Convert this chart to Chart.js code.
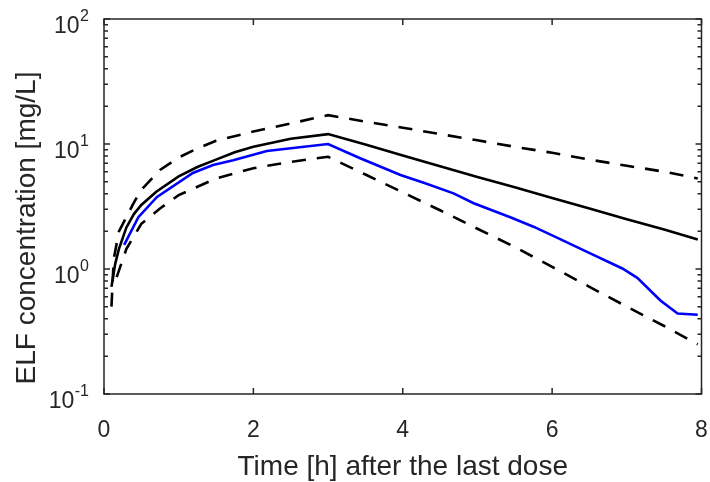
<!DOCTYPE html>
<html>
<head>
<meta charset="utf-8">
<script src="https://cdn.jsdelivr.net/npm/chart.js@4.4.0/dist/chart.umd.min.js"></script>
<style>
  html, body { margin: 0; padding: 0; background: #fff; }
  #wrap { width: 710px; height: 482px; position: relative; }
</style>
</head>
<body>
<div id="wrap"><canvas id="elfChart"></canvas></div>
<script>
/* median prediction (black solid) */
var medianTimes = [0.1, 0.15, 0.2, 0.3, 0.4, 0.5, 0.7, 1.0, 1.25, 1.5, 1.75, 2.0, 2.5, 3.0, 3.5, 4.0, 4.5, 5.0, 5.5, 6.0, 6.5, 7.0, 7.5, 7.95];
var medianConc  = [0.72, 1.1, 1.45, 2.15, 2.75, 3.25, 4.15, 5.5, 6.55, 7.5, 8.6, 9.5, 11.0, 12.0, 9.9, 8.1, 6.65, 5.45, 4.5, 3.7, 3.05, 2.5, 2.07, 1.72];
/* upper bound (black dashed) */
var upperTimes = [0.1, 0.13, 0.2, 0.3, 0.4, 0.5, 0.75, 1.0, 1.25, 1.5, 2.0, 2.5, 3.0, 3.5, 4.0, 4.5, 5.0, 5.5, 6.0, 6.5, 7.0, 7.5, 7.95];
var upperConc  = [0.5, 1.2, 2.0, 2.6, 3.4, 4.3, 6.2, 7.8, 9.2, 10.6, 12.6, 14.6, 17.0, 15.1, 13.5, 12.0, 10.7, 9.5, 8.5, 7.5, 6.7, 6.0, 5.3];
/* lower bound (black dashed) */
var lowerTimes = [0.17, 0.3, 0.5, 0.75, 1.0, 1.5, 2.0, 2.5, 3.0, 3.5, 4.0, 4.5, 5.0, 5.5, 6.0, 6.5, 7.0, 7.5, 7.95];
var lowerConc  = [0.86, 1.45, 2.3, 3.05, 3.9, 5.3, 6.4, 7.2, 7.9, 5.7, 4.1, 2.95, 2.1, 1.5, 1.04, 0.72, 0.5, 0.35, 0.25];
/* blue curve */
var blueTimes = [0.27, 0.46, 0.71, 1.19, 1.46, 1.73, 2.18, 3.0, 3.43, 3.97, 4.3, 4.68, 4.95, 5.44, 5.75, 6.1, 6.51, 6.94, 7.14, 7.45, 7.68, 7.95];
var blueConc  = [1.56, 2.6, 3.77, 5.87, 6.8, 7.4, 8.8, 10.0, 7.7, 5.65, 4.85, 4.03, 3.36, 2.59, 2.18, 1.74, 1.335, 1.01, 0.85, 0.56, 0.44, 0.43];

var xTicks = [0, 2, 4, 6, 8];
var yDecades = [0.1, 1, 10, 100];
var yExponents = ['-1', '0', '1', '2'];

var axisColor = '#262626';
var fontFamily = '"Liberation Sans", Arial, Helvetica, sans-serif';

function toPoints(ts, vs) {
  return ts.map(function(t, i) { return { x: t, y: vs[i] }; });
}

/* MATLAB-like box with inward ticks, tick labels and axis titles */
var framePlugin = {
  id: 'matlabFrame',
  afterDatasetsDraw: function(chart) {
    var c = chart.ctx;
    var a = chart.chartArea;
    var xs = chart.scales.x;
    var ys = chart.scales.y;
    c.save();
    c.strokeStyle = axisColor;
    c.lineWidth = 1.5;
    c.strokeRect(a.left, a.top, a.right - a.left, a.bottom - a.top);
    c.beginPath();
    xTicks.forEach(function(v) {
      var px = xs.getPixelForValue(v);
      c.moveTo(px, a.bottom); c.lineTo(px, a.bottom - 6);
      c.moveTo(px, a.top); c.lineTo(px, a.top + 6);
    });
    yDecades.forEach(function(d, i) {
      var py = ys.getPixelForValue(d);
      c.moveTo(a.left, py); c.lineTo(a.left + 6, py);
      c.moveTo(a.right, py); c.lineTo(a.right - 6, py);
      if (i < yDecades.length - 1) {
        for (var m = 2; m <= 9; m++) {
          var pm = ys.getPixelForValue(d * m);
          c.moveTo(a.left, pm); c.lineTo(a.left + 4, pm);
          c.moveTo(a.right, pm); c.lineTo(a.right - 4, pm);
        }
      }
    });
    c.stroke();

    c.fillStyle = axisColor;
    c.textBaseline = 'alphabetic';

    /* x tick labels */
    c.font = '23px ' + fontFamily;
    c.textAlign = 'center';
    xTicks.forEach(function(v) {
      c.fillText(String(v), xs.getPixelForValue(v), a.bottom + 43);
    });

    /* x axis title */
    c.font = '28px ' + fontFamily;
    c.fillText('Time [h] after the last dose', (a.left + a.right) / 2, 475);

    /* y tick labels with superscript exponents */
    var rightX = a.left - 15;
    yDecades.forEach(function(d, i) {
      var py = ys.getPixelForValue(d);
      c.font = '16px ' + fontFamily;
      var ew = c.measureText(yExponents[i]).width;
      c.textAlign = 'left';
      c.fillText(yExponents[i], rightX - ew, py + 2);
      c.font = '23px ' + fontFamily;
      c.textAlign = 'right';
      c.fillText('10', rightX - ew - 0.5, py + 14);
    });

    /* y axis title */
    c.translate(27, 228);
    c.rotate(-Math.PI / 2);
    c.font = '28px ' + fontFamily;
    c.textAlign = 'center';
    c.textBaseline = 'middle';
    c.fillText('ELF concentration [mg/L]', 0, 0);
    c.restore();
  }
};

new Chart(document.getElementById('elfChart'), {
  type: 'line',
  data: {
    datasets: [
      {
        label: 'Upper',
        data: toPoints(upperTimes, upperConc),
        borderColor: '#000000',
        borderWidth: 2.6,
        borderDash: [14, 11],
        pointRadius: 0,
        tension: 0,
        fill: false
      },
      {
        label: 'Lower',
        data: toPoints(lowerTimes, lowerConc),
        borderColor: '#000000',
        borderWidth: 2.6,
        borderDash: [14, 11],
        pointRadius: 0,
        tension: 0,
        fill: false
      },
      {
        label: 'Median',
        data: toPoints(medianTimes, medianConc),
        borderColor: '#000000',
        borderWidth: 2.6,
        pointRadius: 0,
        tension: 0,
        fill: false
      },
      {
        label: 'Observed',
        data: toPoints(blueTimes, blueConc),
        borderColor: '#0000FF',
        borderWidth: 2.6,
        pointRadius: 0,
        tension: 0,
        fill: false
      }
    ]
  },
  options: {
    responsive: true,
    maintainAspectRatio: false,
    animation: false,
    layout: { padding: { left: 104, right: 8.5, top: 19, bottom: 88 } },
    plugins: {
      legend: { display: false },
      tooltip: { enabled: false }
    },
    scales: {
      x: {
        type: 'linear',
        min: 0,
        max: 8,
        grid: { display: false, drawTicks: false },
        border: { display: false },
        ticks: { display: false, stepSize: 2 },
        title: { display: false }
      },
      y: {
        type: 'logarithmic',
        min: 0.1,
        max: 100,
        grid: { display: false, drawTicks: false },
        border: { display: false },
        ticks: { display: false },
        title: { display: false }
      }
    }
  },
  plugins: [framePlugin]
});
</script>
</body>
</html>
